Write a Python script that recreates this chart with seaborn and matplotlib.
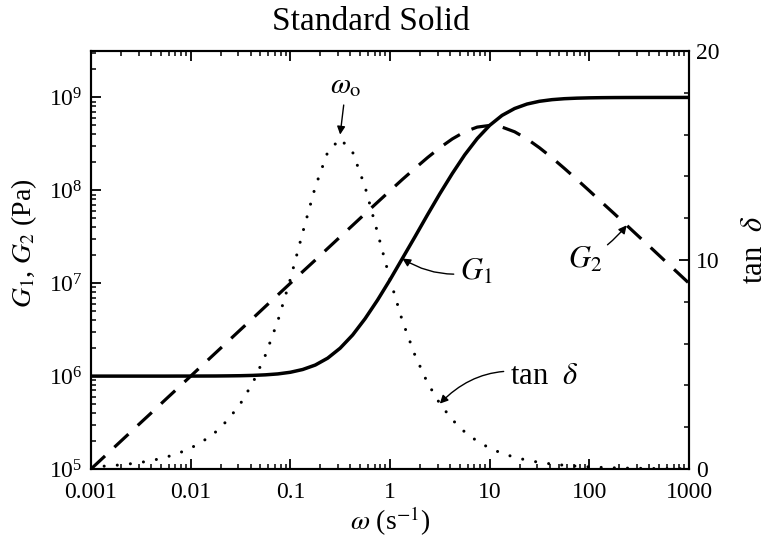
import matplotlib
matplotlib.use("Agg")
import matplotlib.pyplot as plt
import matplotlib.ticker as mticker
import numpy as np
import pandas as pd
import seaborn as sns

# ---------------- data ----------------
omega = [0.001, 0.00133, 0.00178, 0.00237, 0.00316, 0.00422, 0.00562, 0.0075,
         0.01, 0.0133, 0.0178, 0.0237, 0.0316, 0.0422, 0.0562, 0.075,
         0.1, 0.133, 0.178, 0.237, 0.316, 0.422, 0.562, 0.75,
         1.0, 1.33, 1.78, 2.37, 3.16, 4.22, 5.62, 7.5,
         10.0, 13.3, 17.8, 23.7, 31.6, 42.2, 56.2, 75.0,
         100.0, 133.0, 178.0, 237.0, 316.0, 422.0, 562.0, 750.0, 1000.0]

G1 = [1.000e6, 1.000e6, 1.000e6, 1.000e6, 1.000e6, 1.000e6, 1.000e6, 1.001e6,
      1.001e6, 1.002e6, 1.003e6, 1.006e6, 1.010e6, 1.018e6, 1.032e6, 1.056e6,
      1.100e6, 1.178e6, 1.316e6, 1.561e6, 1.998e6, 2.773e6, 4.149e6, 6.586e6,
      1.089e7, 1.845e7, 3.162e7, 5.419e7, 9.182e7, 1.518e8, 2.410e8, 3.606e8,
      5.005e8, 6.404e8, 7.600e8, 8.492e8, 9.092e8, 9.468e8, 9.694e8, 9.825e8,
      9.901e8, 9.944e8, 9.969e8, 9.982e8, 9.990e8, 9.994e8, 9.997e8, 9.998e8, 9.999e8]

G2 = [1.00e5, 1.33e5, 1.78e5, 2.37e5, 3.16e5, 4.21e5, 5.62e5, 7.49e5,
      9.99e5, 1.33e6, 1.78e6, 2.37e6, 3.16e6, 4.21e6, 5.62e6, 7.49e6,
      9.99e6, 1.332e7, 1.776e7, 2.368e7, 3.156e7, 4.205e7, 5.600e7, 7.450e7,
      9.891e7, 1.309e8, 1.722e8, 2.243e8, 2.872e8, 3.577e8, 4.268e8, 4.795e8,
      4.995e8, 4.795e8, 4.268e8, 3.577e8, 2.872e8, 2.243e8, 1.722e8, 1.309e8,
      9.891e7, 7.449e7, 5.600e7, 4.205e7, 3.156e7, 2.368e7, 1.776e7, 1.332e7, 9.99e6]

tan_delta = [0.100, 0.133, 0.178, 0.237, 0.316, 0.421, 0.562, 0.749,
             0.998, 1.330, 1.771, 2.356, 3.128, 4.139, 5.446, 7.093,
             9.082, 11.31, 13.50, 15.16, 15.80, 15.16, 13.50, 11.31,
             9.082, 7.093, 5.446, 4.139, 3.128, 2.356, 1.771, 1.330,
             0.998, 0.749, 0.562, 0.421, 0.316, 0.237, 0.178, 0.133,
             0.100, 0.075, 0.056, 0.042, 0.032, 0.024, 0.018, 0.013, 0.010]

xtick_vals = [0.001, 0.01, 0.1, 1, 10, 100, 1000]
xtick_labels = ["0.001", "0.01", "0.1", "1", "10", "100", "1000"]
tan_ticks = [0, 10, 20]

df = pd.DataFrame({"omega": omega, "G1": G1, "G2": G2, "tan_delta": tan_delta})

# ---------------- style ----------------
sns.set_theme(style="ticks")
plt.rcParams.update({
    "font.family": ["Liberation Serif", "DejaVu Serif"],
    "mathtext.fontset": "stix",
    "axes.linewidth": 1.5,
    "axes.edgecolor": "black",
    "xtick.color": "black",
    "ytick.color": "black",
    "text.color": "black",
    "axes.labelcolor": "black",
})

fig = plt.figure(figsize=(7.71, 5.48), dpi=100)
fig.patch.set_facecolor("white")
ax = fig.add_axes([91 / 771, 79 / 548, 598 / 771, 418 / 548])
ax.set_facecolor("white")

sns.lineplot(data=df, x="omega", y="G1", ax=ax, color="black", lw=2.5,
             errorbar=None, sort=False)
sns.lineplot(data=df, x="omega", y="G2", ax=ax, color="black", lw=2.3,
             errorbar=None, sort=False)
ax.lines[-1].set_dashes([6, 4])

ax.set_xscale("log")
ax.set_yscale("log")
ax.set_xlim(1e-3, 1e3)
ax.set_ylim(1e5, 10 ** 9.5)

ax.xaxis.set_major_locator(mticker.FixedLocator(xtick_vals))
ax.xaxis.set_major_formatter(mticker.FixedFormatter(xtick_labels))
ax.xaxis.set_minor_locator(mticker.LogLocator(base=10, subs=np.arange(2, 10), numticks=20))
ax.xaxis.set_minor_formatter(mticker.NullFormatter())
ax.yaxis.set_major_locator(mticker.LogLocator(base=10, numticks=10))
ax.yaxis.set_minor_locator(mticker.LogLocator(base=10, subs=np.arange(2, 10), numticks=20))
ax.yaxis.set_minor_formatter(mticker.NullFormatter())

ax.tick_params(axis="both", which="both", direction="in", top=True, right=False,
               colors="black", labelsize=17)
ax.tick_params(axis="both", which="major", length=7, width=1.3)
ax.tick_params(axis="both", which="minor", length=3.5, width=1.1)
ax.tick_params(axis="x", pad=9)
ax.tick_params(axis="y", pad=6)

ax2 = ax.twinx()
sns.lineplot(data=df, x="omega", y="tan_delta", ax=ax2, color="black", lw=2.2,
             errorbar=None, sort=False)
dot = ax2.lines[-1]
dot.set_dashes([0.01, 4.3])
dot.set_dash_capstyle("round")
ax2.set_ylim(0, 20)
ax2.set_yticks(tan_ticks)
ax2.yaxis.set_minor_locator(mticker.MultipleLocator(2))
ax2.tick_params(axis="y", which="both", direction="in", colors="black", labelsize=17, pad=5)
ax2.tick_params(axis="y", which="major", length=7, width=1.3)
ax2.tick_params(axis="y", which="minor", length=3.5, width=1.1)
for s in ax2.spines.values():
    s.set_linewidth(1.5)
    s.set_color("black")

# labels
ax.set_xlabel(r"$\omega$ (s$^{-1}$)", fontsize=20)
ax.xaxis.set_label_coords(0.5, -0.085)
ax.set_ylabel(r"$G_1$, $G_2$ (Pa)", fontsize=20, va="center")
ax.yaxis.set_label_coords(-0.112, 0.541)
ax2.set_ylabel(r"tan  $\delta$", fontsize=22, va="center")
ax2.yaxis.set_label_coords(1.110, 0.524)

fig.text(371 / 771, 1 - 30 / 548, "Standard Solid", ha="center", va="baseline", fontsize=24)

arrow = dict(arrowstyle="-|>", color="black", lw=1.0, mutation_scale=12,
             shrinkA=2, shrinkB=0)

# omega_o peak marker
ax2.annotate(r"$\omega_{\mathrm{o}}$", xy=(omega[20], tan_delta[20] + 0.2),
             xytext=((346 - 91) / 598, (469 - 86) / 418), textcoords="axes fraction",
             ha="center", va="center", fontsize=21,
             arrowprops=dict(arrow, connectionstyle="arc3,rad=0"))
# G1
ax.annotate(r"$G_1$", xy=(omega[25], G1[25]),
            xytext=((476 - 91) / 598, (469 - 272) / 418), textcoords="axes fraction",
            ha="center", va="center", fontsize=22,
            arrowprops=dict(arrow, connectionstyle="arc3,rad=-0.2"))
# G2
ax.annotate(r"$G_2$", xy=(omega[43], G2[43]),
            xytext=((585 - 91) / 598, (469 - 260) / 418), textcoords="axes fraction",
            ha="center", va="center", fontsize=22,
            arrowprops=dict(arrow, connectionstyle="arc3,rad=0.1"))
# tan delta
ax2.annotate(r"tan  $\delta$", xy=(omega[28], tan_delta[28]),
             xytext=((544 - 91) / 598, (469 - 376) / 418), textcoords="axes fraction",
             ha="center", va="center", fontsize=22,
             arrowprops=dict(arrow, connectionstyle="arc3,rad=0.3"))

fig.savefig("out.png", dpi=100, facecolor="white")
